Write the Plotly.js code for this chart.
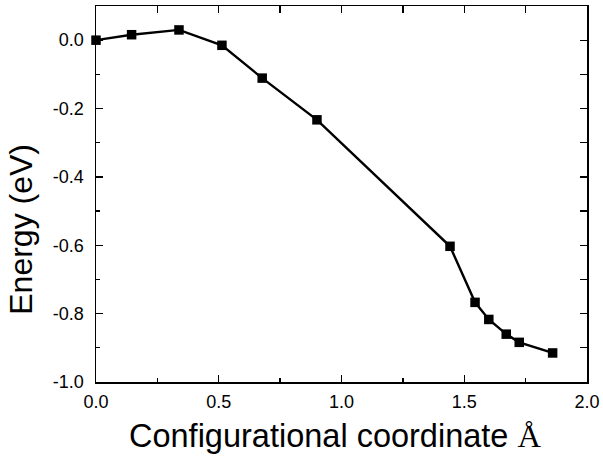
<!DOCTYPE html>
<html><head><meta charset="utf-8">
<script src="https://cdn.plot.ly/plotly-3.0.1.min.js"></script>
<style>html,body{margin:0;padding:0;background:#fff}</style>
</head><body>
<div id="chart" style="width:603px;height:457px"></div>
<script>
const coord = [0.0, 0.145, 0.338, 0.513, 0.677, 0.90, 1.442, 1.544, 1.600, 1.671, 1.724, 1.860];
const energy = [0.0, 0.016, 0.030, -0.015, -0.111, -0.233, -0.603, -0.767, -0.817, -0.860, -0.884, -0.915];
const xTickVals = [0.0, 0.5, 1.0, 1.5, 2.0];
const xTickText = ['0.0', '0.5', '1.0', '1.5', '2.0'];
const yTickVals = [0.0, -0.2, -0.4, -0.6, -0.8, -1.0];
const yTickText = ['0.0', '-0.2', '-0.4', '-0.6', '-0.8', '-1.0'];
const xTitle = 'Configurational coordinate <span style="font-family:Liberation Serif, Times New Roman, serif">Å</span>';
const yTitle = 'Energy (eV)';

const font = 'Liberation Sans, Arial, sans-serif';
const trace = {
  x: coord, y: energy, type: 'scatter', mode: 'lines+markers',
  line: {color: '#000', width: 2.4},
  marker: {symbol: 'square', size: 9.5, color: '#000'},
  cliponaxis: false, hoverinfo: 'none'
};
const layout = {
  width: 603, height: 457,
  margin: {l: 96, r: 16, t: 6, b: 75},
  paper_bgcolor: '#fff', plot_bgcolor: '#fff',
  showlegend: false,
  font: {family: font, color: '#000'},
  xaxis: {
    range: [0, 2.0], tickvals: xTickVals, ticktext: xTickText,
    ticks: 'inside', ticklen: 7, tickwidth: 1.3, tickcolor: '#000',
    minor: {dtick: 0.25, tick0: 0, ticks: 'inside', ticklen: 4, tickwidth: 1.3, tickcolor: '#000'},
    showline: true, linecolor: '#000', linewidth: 1.5, mirror: true,
    showgrid: false, zeroline: false,
    tickfont: {size: 18, family: font}, ticklabelstandoff: 3
  },
  yaxis: {
    range: [-1.0, 0.1], tickvals: yTickVals, ticktext: yTickText,
    ticks: 'inside', ticklen: 7, tickwidth: 1.3, tickcolor: '#000',
    minor: {dtick: 0.1, tick0: 0, ticks: 'inside', ticklen: 4, tickwidth: 1.3, tickcolor: '#000'},
    showline: true, linecolor: '#000', linewidth: 1.5, mirror: true,
    showgrid: false, zeroline: false,
    tickfont: {size: 18, family: font}, ticklabelstandoff: 7
  },
  xaxis2: {overlaying: 'x', side: 'top', range: [0, 2.0], dtick: 0.25, tick0: 0,
    ticks: 'inside', ticklen: 7, tickwidth: 1.3, tickcolor: '#000', showticklabels: false, showgrid: false, zeroline: false},
  yaxis2: {overlaying: 'y', side: 'right', range: [-1.0, 0.1], dtick: 0.1, tick0: 0,
    ticks: 'inside', ticklen: 7, tickwidth: 1.3, tickcolor: '#000', showticklabels: false, showgrid: false, zeroline: false},
  annotations: [
    {text: xTitle, xref: 'paper', yref: 'paper', x: 0.487, y: -0.1436, xanchor: 'center', yanchor: 'middle',
     showarrow: false, font: {size: 32.5, family: font, color: '#000'}},
    {text: yTitle, xref: 'paper', yref: 'paper', x: -0.1527, y: 0.405, xanchor: 'center', yanchor: 'middle',
     textangle: -90, showarrow: false, font: {size: 32, family: font, color: '#000'}}
  ]
};
const dummy = {x: [0], y: [0], xaxis: 'x2', yaxis: 'y2', mode: 'markers', marker: {opacity: 0}, hoverinfo: 'none'};
Plotly.newPlot('chart', [dummy, trace], layout, {staticPlot: true});
</script>
</body></html>
